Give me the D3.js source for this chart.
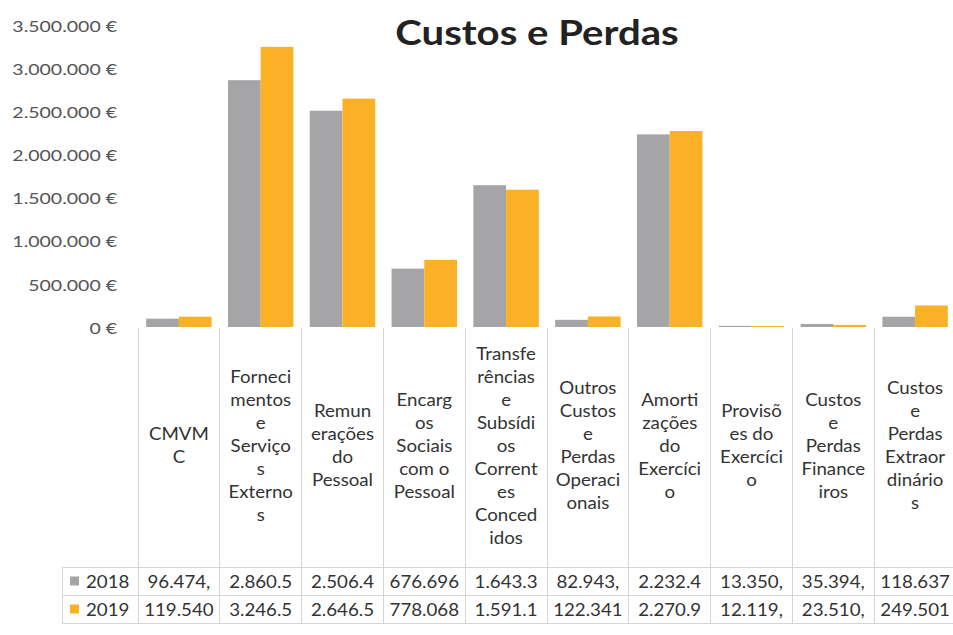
<!DOCTYPE html>
<html>
<head>
<meta charset="utf-8">
<script src="https://cdn.jsdelivr.net/npm/d3@7"></script>
<style>
  html, body { margin: 0; padding: 0; background: #fff; }
  svg { display: block; }
  text { font-family: Lato, "Open Sans", sans-serif; fill: #333; }
</style>
</head>
<body>
<svg id="chart" width="953" height="635"></svg>
<script>
// ---- data ----
const title = "Custos e Perdas";
const categories = [
  "CMVMC",
  "Fornecimentos e Serviços Externos",
  "Remunerações do Pessoal",
  "Encargos Sociais com o Pessoal",
  "Transferências e Subsídios Correntes Concedidos",
  "Outros Custos e Perdas Operacionais",
  "Amortizações do Exercício",
  "Provisões do Exercício",
  "Custos e Perdas Financeiros",
  "Custos e Perdas Extraordinários"
];
const categoryLines = [
  ["CMVM", "C"],
  ["Forneci", "mentos", "e", "Serviço", "s", "Externo", "s"],
  ["Remun", "erações", "do", "Pessoal"],
  ["Encarg", "os", "Sociais", "com o", "Pessoal"],
  ["Transfe", "rências", "e", "Subsídi", "os", "Corrent", "es", "Conced", "idos"],
  ["Outros", "Custos", "e", "Perdas", "Operaci", "onais"],
  ["Amorti", "zações", "do", "Exercíci", "o"],
  ["Provisõ", "es do", "Exercíci", "o"],
  ["Custos", "e", "Perdas", "Finance", "iros"],
  ["Custos", "e", "Perdas", "Extraor", "dinário", "s"]
];
const seriesNames = ["2018", "2019"];
const values2018 = [96474, 2860500, 2506400, 676696, 1643300, 82943, 2232400, 13350, 35394, 118637];
const values2019 = [119540, 3246500, 2646500, 778068, 1591100, 122341, 2270900, 12119, 23510, 249501];
const labels2018 = ["96.474,", "2.860.5", "2.506.4", "676.696", "1.643.3", "82.943,", "2.232.4", "13.350,", "35.394,", "118.637"];
const labels2019 = ["119.540", "3.246.5", "2.646.5", "778.068", "1.591.1", "122.341", "2.270.9", "12.119,", "23.510,", "249.501"];
const yTicks = [0, 500000, 1000000, 1500000, 2000000, 2500000, 3000000, 3500000];
const colors = ["#a5a5a7", "#fbb126"];

// ---- layout ----
const svg = d3.select("#chart");
const plotLeft = 138, plotRight = 956;
const baseY = 327, topY = 25;
const headerBottom = 567, row1Bottom = 595, row2Bottom = 623;
const legendLeft = 62;

const x = d3.scaleBand().domain(categories).range([plotLeft, plotRight]).paddingInner(0.2).paddingOuter(0.1);
const xCol = d3.scaleBand().domain(categories).range([plotLeft, plotRight]);
const xs = d3.scaleBand().domain(seriesNames).range([0, x.bandwidth()]);
const y = d3.scaleLinear().domain([0, 3500000]).range([baseY, topY]);

const fmtEuro = v => d3.formatLocale({decimal: ",", thousands: ".", grouping: [3], currency: ["", " €"]}).format(",")(v) + " €";

function stretchText(g, px, py, str, size, anchor, sx, weight, fill) {
  return g.append("text")
    .attr("transform", `translate(${px},${py}) scale(${sx},1)`)
    .attr("text-anchor", anchor)
    .attr("dominant-baseline", "central")
    .style("font-size", size + "px")
    .style("font-weight", weight || "normal")
    .style("fill", fill || "#333")
    .text(str);
}

// title
stretchText(svg, 537, 32, title, 34, "middle", 1.18, "bold", "#222");

// y axis labels (no axis line)
const yAxis = d3.axisLeft(y).tickValues(yTicks).tickFormat(fmtEuro).tickSize(0).tickPadding(0);
const yg = svg.append("g").attr("transform", `translate(117,0)`).call(yAxis);
yg.select(".domain").remove();
yg.selectAll(".tick text").each(function(d) {
  const t = d3.select(this);
  t.attr("x", null).attr("dy", null)
    .attr("transform", `scale(1.22,1)`)
    .attr("dominant-baseline", "central")
    .style("font-family", "Lato, sans-serif")
    .style("font-size", "16px")
    .style("fill", "#555");
});

// bars
const data = categories.map((c, i) => ({cat: c, vals: [values2018[i], values2019[i]]}));
const groups = svg.append("g").selectAll("g").data(data).join("g")
  .attr("transform", d => `translate(${x(d.cat)},0)`);
groups.selectAll("rect").data(d => d.vals.map((v, j) => ({s: seriesNames[j], v, j})))
  .join("rect")
  .attr("x", d => xs(d.s))
  .attr("width", xs.bandwidth())
  .attr("y", d => y(d.v))
  .attr("height", d => baseY - y(d.v))
  .attr("fill", d => colors[d.j]);

// data table grid
const grid = svg.append("g").attr("stroke", "#d6d6d6").attr("stroke-width", 1).attr("shape-rendering", "crispEdges");
const bounds = categories.map(c => xCol(c)).concat([plotRight]);
bounds.forEach(b => {
  grid.append("line").attr("x1", b).attr("x2", b).attr("y1", baseY + 1).attr("y2", row2Bottom);
});
grid.append("line").attr("x1", legendLeft).attr("x2", legendLeft).attr("y1", headerBottom).attr("y2", row2Bottom);
[headerBottom, row1Bottom, row2Bottom].forEach(yy => {
  grid.append("line").attr("x1", legendLeft).attr("x2", plotRight).attr("y1", yy).attr("y2", yy);
});

// header labels
const headerCenter = (baseY + headerBottom) / 2 - 2;
const lineH = 23;
categories.forEach((c, i) => {
  const lines = categoryLines[i];
  const cx = xCol(c) + xCol.bandwidth() / 2;
  const y0 = headerCenter - (lines.length - 1) * lineH / 2;
  lines.forEach((ln, k) => {
    stretchText(svg, cx, y0 + k * lineH, ln, 17, "middle", 1.1, "normal", "#333");
  });
});

// value rows
const rowY = [(headerBottom + row1Bottom) / 2, (row1Bottom + row2Bottom) / 2];
const rowLabels = [labels2018, labels2019];
rowLabels.forEach((labs, r) => {
  categories.forEach((c, i) => {
    const cx = xCol(c) + xCol.bandwidth() / 2;
    stretchText(svg, cx, rowY[r], labs[i], 17, "middle", 1.1, "normal", "#333");
  });
  // legend key
  svg.append("rect").attr("x", 70).attr("y", rowY[r] - 4.5).attr("width", 9).attr("height", 9).attr("fill", colors[r]);
  stretchText(svg, 86, rowY[r], seriesNames[r], 17, "start", 1.1, "normal", "#333");
});
</script>
</body>
</html>
